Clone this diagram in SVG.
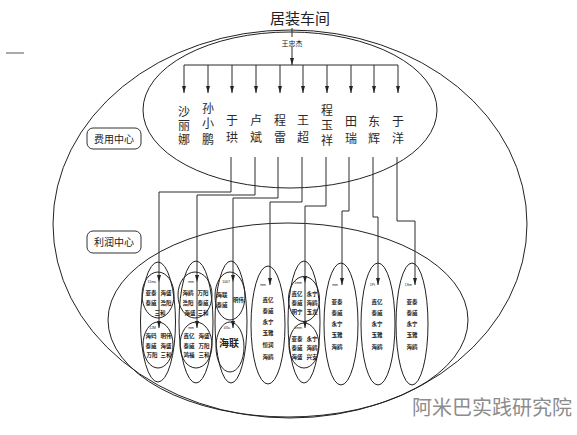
<svg xmlns="http://www.w3.org/2000/svg" width="577" height="435" viewBox="0 0 577 435">
<defs>
<marker id="ah" markerUnits="userSpaceOnUse" markerWidth="7" markerHeight="4" refX="7" refY="2" orient="auto">
<path d="M0,0 L7,2 L0,4 z" fill="#222"/>
</marker>
<style>
.ln{fill:none;stroke:#2a2a2a;stroke-width:1}
.el{fill:none;stroke:#222;stroke-width:1}
.nm{font-family:"Noto Sans CJK SC","Noto Sans",sans-serif;font-size:12px;fill:#2a2a2a;writing-mode:vertical-rl}
.sm{font-family:"Noto Sans CJK SC","Noto Sans",sans-serif;font-size:5.5px;font-weight:bold;fill:#222;text-anchor:middle}
.tn{font-family:"Liberation Sans",sans-serif;font-size:3.5px;fill:#222;text-anchor:end}
.bx{fill:#fff;stroke:#333;stroke-width:1}
.bt{font-family:"Noto Sans CJK SC","Noto Sans",sans-serif;font-size:10px;fill:#222;text-anchor:middle}
</style>
</defs>
<rect width="577" height="435" fill="#fff"/>
<line x1="6" y1="53" x2="24" y2="53" stroke="#555" stroke-width="1"/>

<g id="outer">
<ellipse class="el" cx="290" cy="224" rx="237" ry="194"/>
</g>
<g id="cost-center">
<ellipse class="el" cx="290" cy="110" rx="147" ry="78"/>
</g>
<g id="profit-center">
<ellipse class="el" cx="288" cy="320" rx="180" ry="97"/>
</g>

<g id="title">
<text x="300" y="24" font-family="'Noto Sans CJK SC',sans-serif" font-size="15" fill="#222" text-anchor="middle">居装车间</text>
<text x="292" y="45.5" font-family="'Noto Sans CJK SC',sans-serif" font-size="7" fill="#222" text-anchor="middle">王忠杰</text>
</g>

<g id="label-cost">
<rect class="bx" x="87" y="128" width="54" height="21" rx="6"/>
<text class="bt" x="114" y="142.5">费用中心</text>
</g>
<g id="label-profit">
<rect class="bx" x="87" y="231" width="54" height="22" rx="6"/>
<text class="bt" x="114" y="246">利润中心</text>
</g>

<g id="names">
<text class="nm" x="184" y="105.5" letter-spacing="2">沙丽娜</text>
<text class="nm" x="208" y="102" letter-spacing="3.5">孙小鹏</text>
<text class="nm" x="232" y="114.5" letter-spacing="4.5">于珙</text>
<text class="nm" x="256" y="114.5" letter-spacing="4.5">卢斌</text>
<text class="nm" x="280" y="114.5" letter-spacing="4.5">程雷</text>
<text class="nm" x="303" y="114.5" letter-spacing="4.5">王超</text>
<text class="nm" x="327" y="104" letter-spacing="3">程玉祥</text>
<text class="nm" x="351" y="115.5" letter-spacing="4.5">田瑞</text>
<text class="nm" x="374" y="115.5" letter-spacing="4.5">东辉</text>
<text class="nm" x="398" y="115.5" letter-spacing="4.5">于洋</text>
</g>

<g id="connectors">
<line class="ln" x1="292" y1="28" x2="292" y2="37"/>
<line class="ln" x1="292" y1="47" x2="292" y2="65" marker-end="url(#ah)"/>
<line class="ln" x1="184" y1="65" x2="398" y2="65"/>
<line class="ln" x1="184" y1="65" x2="184" y2="93" marker-end="url(#ah)"/>
<line class="ln" x1="208" y1="65" x2="208" y2="93" marker-end="url(#ah)"/>
<line class="ln" x1="232" y1="65" x2="232" y2="93" marker-end="url(#ah)"/>
<line class="ln" x1="256" y1="65" x2="256" y2="93" marker-end="url(#ah)"/>
<line class="ln" x1="280" y1="65" x2="280" y2="93" marker-end="url(#ah)"/>
<line class="ln" x1="303" y1="65" x2="303" y2="93" marker-end="url(#ah)"/>
<line class="ln" x1="327" y1="65" x2="327" y2="93" marker-end="url(#ah)"/>
<line class="ln" x1="351" y1="65" x2="351" y2="93" marker-end="url(#ah)"/>
<line class="ln" x1="374" y1="65" x2="374" y2="93" marker-end="url(#ah)"/>
<line class="ln" x1="398" y1="65" x2="398" y2="93" marker-end="url(#ah)"/>

<path class="ln" d="M231,157 V192 H159 V282" marker-end="url(#ah)"/>
<path class="ln" d="M159,282 V328" marker-end="url(#ah)"/>
<path class="ln" d="M255,157 V195 H197 V282" marker-end="url(#ah)"/>
<path class="ln" d="M197,282 V328" marker-end="url(#ah)"/>
<path class="ln" d="M278,157 V198 H233 V282" marker-end="url(#ah)"/>
<path class="ln" d="M233,282 V328" marker-end="url(#ah)"/>
<path class="ln" d="M302,157 V202 H270 V285" marker-end="url(#ah)"/>
<path class="ln" d="M326,157 V206 H305 V283" marker-end="url(#ah)"/>
<path class="ln" d="M305,283 V328" marker-end="url(#ah)"/>
<path class="ln" d="M349,157 V211 H342 V285" marker-end="url(#ah)"/>
<path class="ln" d="M373,157 V217 H378 V285" marker-end="url(#ah)"/>
<path class="ln" d="M397,157 V221 H415 V285" marker-end="url(#ah)"/>
</g>

<g id="unit-1">
<ellipse class="el" cx="158" cy="322" rx="17.5" ry="60"/>
<ellipse class="el" cx="158" cy="295" rx="16" ry="23"/>
<ellipse class="el" cx="158" cy="345" rx="15" ry="23"/>
<text class="tn" x="156" y="283">11ma</text>
<text class="tn" x="156" y="329">12M</text>
<text class="sm" x="151" y="295">亚泰</text><text class="sm" x="166" y="295">海盛</text>
<text class="sm" x="151" y="305">泰威</text><text class="sm" x="166" y="305">浩阳</text>
<text class="sm" x="160" y="315">三和</text>
<text class="sm" x="151" y="338">海码</text><text class="sm" x="166" y="338">明伟</text>
<text class="sm" x="151" y="347.5">泰威</text><text class="sm" x="166" y="347.5">海盛</text>
<text class="sm" x="152" y="357">万阳</text><text class="sm" x="166" y="357">三和</text>
</g>

<g id="unit-2">
<ellipse class="el" cx="196" cy="322" rx="17" ry="61"/>
<ellipse class="el" cx="195" cy="295" rx="17" ry="23"/>
<ellipse class="el" cx="196" cy="345" rx="16" ry="23"/>
<text class="tn" x="194" y="283">mm</text>
<text class="tn" x="194" y="329">mm</text>
<text class="sm" x="188" y="295">海鸥</text><text class="sm" x="203" y="295">万阳</text>
<text class="sm" x="188" y="305">浩阳</text><text class="sm" x="203" y="305">泰威</text>
<text class="sm" x="190" y="315">海盛</text><text class="sm" x="203" y="315">三和</text>
<text class="sm" x="189" y="338">鑫亿</text><text class="sm" x="204" y="338">海盛</text>
<text class="sm" x="189" y="347.5">泰威</text><text class="sm" x="204" y="347.5">万阳</text>
<text class="sm" x="189" y="357">鸿福</text><text class="sm" x="204" y="357">三和</text>
</g>

<g id="unit-3">
<ellipse class="el" cx="231" cy="322" rx="16" ry="61"/>
<ellipse class="el" cx="230" cy="296" rx="15" ry="24"/>
<ellipse class="el" cx="230" cy="347" rx="14" ry="25"/>
<text class="tn" x="230" y="283">1007</text>
<text class="tn" x="230" y="329">4Xa</text>
<text class="sm" x="222" y="297">海联</text>
<text class="sm" x="222" y="307">泰威</text>
<text class="sm" x="238.5" y="302">明伟</text>
<text x="229" y="347" font-family="'Noto Sans CJK SC',sans-serif" font-size="10" font-weight="bold" fill="#222" text-anchor="middle">海联</text>
</g>

<g id="unit-4">
<ellipse class="el" cx="268" cy="325" rx="17" ry="59"/>
<text class="tn" x="266" y="286">mm</text>
<text class="sm" x="268" y="302">鑫亿</text>
<text class="sm" x="268" y="313">泰威</text>
<text class="sm" x="268" y="324">永宁</text>
<text class="sm" x="268" y="335">玉雅</text>
<text class="sm" x="268" y="347">恒润</text>
<text class="sm" x="268" y="359">海鸥</text>
</g>

<g id="unit-5">
<ellipse class="el" cx="304" cy="322" rx="16" ry="61"/>
<ellipse class="el" cx="304" cy="299" rx="15.5" ry="22.5"/>
<ellipse class="el" cx="304" cy="345.5" rx="15" ry="22.5"/>
<text class="tn" x="302" y="284">1mm</text>
<text class="tn" x="302" y="329">1mm</text>
<text class="sm" x="297" y="296">鑫亿</text><text class="sm" x="312" y="296">永宁</text>
<text class="sm" x="297" y="305">泰威</text><text class="sm" x="312" y="305">海鸥</text>
<text class="sm" x="297" y="314">明宁</text><text class="sm" x="312" y="314">玉龙</text>
<text class="sm" x="297" y="341">亚泰</text><text class="sm" x="312" y="341">永宁</text>
<text class="sm" x="297" y="350">泰威</text><text class="sm" x="312" y="350">海鸥</text>
<text class="sm" x="297" y="359">海盛</text><text class="sm" x="312" y="359">兴安</text>
</g>

<g id="unit-6">
<ellipse class="el" cx="341" cy="324" rx="17" ry="61"/>
<text class="tn" x="338" y="286">mm</text>
<text class="sm" x="337" y="304">亚泰</text>
<text class="sm" x="337" y="315">泰威</text>
<text class="sm" x="337" y="326">永宁</text>
<text class="sm" x="337" y="337">玉雅</text>
<text class="sm" x="337" y="349">海鸥</text>
</g>

<g id="unit-7">
<ellipse class="el" cx="378" cy="324" rx="17" ry="61"/>
<text class="tn" x="375" y="286">1Pt</text>
<text class="sm" x="377" y="304">鑫亿</text>
<text class="sm" x="377" y="315">泰威</text>
<text class="sm" x="377" y="326">永宁</text>
<text class="sm" x="377" y="337">玉雅</text>
<text class="sm" x="377" y="349">海鸥</text>
</g>

<g id="unit-8">
<ellipse class="el" cx="412" cy="324" rx="16" ry="61"/>
<text class="tn" x="412" y="286">1Sm</text>
<text class="sm" x="412" y="304">亚泰</text>
<text class="sm" x="412" y="315">泰威</text>
<text class="sm" x="412" y="326">永宁</text>
<text class="sm" x="412" y="337">玉雅</text>
<text class="sm" x="412" y="349">海鸥</text>
</g>

<g id="watermark">
<text x="412" y="415" font-family="'Noto Sans CJK SC',sans-serif" font-size="20" fill="#8c8c8c">阿米巴实践研究院</text>
</g>
</svg>
